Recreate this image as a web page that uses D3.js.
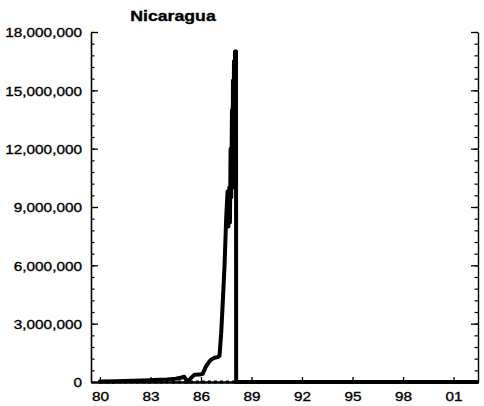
<!DOCTYPE html>
<html>
<head>
<meta charset="utf-8">
<script src="https://cdn.jsdelivr.net/npm/d3@7"></script>
<style>
  html, body { margin: 0; padding: 0; background: #fff; }
  svg { display: block; }
  text { font-family: Arial, "Liberation Sans", Helvetica, sans-serif; fill: #000; }
</style>
</head>
<body>
<svg id="chart" width="484" height="406"></svg>
<script>
// ---- data ----
const title = "Nicaragua";
const years = [80.0, 81.0, 82.0, 83.0, 83.5, 84.0, 84.5, 84.8, 85.0, 85.1, 85.2, 85.4, 85.6, 85.9,
  86.1, 86.3, 86.45, 86.6, 86.8, 87.0, 87.1, 87.2, 87.3, 87.4, 87.5, 87.58, 87.63, 87.68, 87.72, 87.76,
  87.8, 87.84, 87.87, 87.9, 87.93, 87.96, 87.99, 88.02, 88.05, 88.08, 88.09, 89, 90, 91, 92, 93, 94, 95, 96, 97, 98, 99, 100, 101, 102, 102.4];
const parallelRate = [30000, 40000, 60000, 90000, 110000, 130000, 170000, 220000, 270000, 150000, 20000, 200000, 370000, 380000,
  420000, 800000, 1000000, 1150000, 1250000, 1280000, 1350000, 2500000, 4200000, 6000000, 8500000, 9800000, 8000000, 10000000, 8200000, 12000000,
  9500000, 14000000, 10000000, 15500000, 11000000, 16500000, 12500000, 17000000, 14000000, 17000000, 0, 0, 0, 0, 0, 0, 0, 0, 0, 0, 0, 0, 0, 0, 0, 0];
const officialYears = [80, 81, 82, 83, 84, 85, 86, 87, 88.08];
const officialRate = [0, 0, 0, 0, 0, 0, 0, 0, 0];
const xTickValues = [80, 83, 86, 89, 92, 95, 98, 101];
const xTickLabels = ["80", "83", "86", "89", "92", "95", "98", "01"];
const yTickValues = [0, 3000000, 6000000, 9000000, 12000000, 15000000, 18000000];
const yTickLabels = ["0", "3,000,000", "6,000,000", "9,000,000", "12,000,000", "15,000,000", "18,000,000"];
const yMinorStep = 600000;

// ---- layout ----
const svg = d3.select("#chart");
const mLeft = 91, mRight = 478, mTop = 32, mBottom = 382;
const x = d3.scaleLinear().domain([79.47, 102.45]).range([mLeft, mRight]);
const y = d3.scaleLinear().domain([0, 18000000]).range([mBottom, mTop]);
const stretch = 1.18;

function stretchText(sel) {
  sel.each(function () {
    const w = this.getComputedTextLength();
    d3.select(this).attr("textLength", w * stretch).attr("lengthAdjust", "spacingAndGlyphs")
      .attr("stroke", "#000").attr("stroke-width", 0.35);
  });
}

// minor ticks
const yMinor = d3.range(0, 18000000 + 1, yMinorStep);
svg.append("g").attr("transform", `translate(${mLeft},0)`)
  .call(d3.axisRight(y).tickValues(yMinor).tickSize(3.5).tickFormat(""))
  .call(g => g.select(".domain").remove())
  .call(g => g.selectAll("line").attr("stroke", "#000").attr("stroke-width", 1.2));
svg.append("g").attr("transform", `translate(${mRight},0)`)
  .call(d3.axisLeft(y).tickValues(yMinor).tickSize(3.5).tickFormat(""))
  .call(g => g.select(".domain").remove())
  .call(g => g.selectAll("line").attr("stroke", "#000").attr("stroke-width", 1.2));

// left axis (major)
const yAxisL = svg.append("g").attr("transform", `translate(${mLeft},0)`)
  .call(d3.axisLeft(y).tickValues(yTickValues).tickSizeInner(-7).tickSizeOuter(0).tickPadding(9)
    .tickFormat((d, i) => yTickLabels[i]));
yAxisL.selectAll("line").attr("stroke", "#000").attr("stroke-width", 1.3);
yAxisL.select(".domain").attr("stroke", "#000").attr("stroke-width", 1.6);
yAxisL.selectAll("text").attr("font-size", 13).attr("dy", "0.36em").call(stretchText);

// right axis (major)
const yAxisR = svg.append("g").attr("transform", `translate(${mRight},0)`)
  .call(d3.axisRight(y).tickValues(yTickValues).tickSizeInner(-7).tickSizeOuter(0).tickFormat(""));
yAxisR.selectAll("line").attr("stroke", "#000").attr("stroke-width", 1.3);
yAxisR.select(".domain").attr("stroke", "#000").attr("stroke-width", 1.4);

// bottom axis
const xAxis = svg.append("g").attr("transform", `translate(0,${mBottom})`)
  .call(d3.axisBottom(x).tickValues(xTickValues).tickSizeInner(-5).tickSizeOuter(0).tickPadding(10)
    .tickFormat((d, i) => xTickLabels[i]));
xAxis.selectAll("line").attr("stroke", "#000").attr("stroke-width", 1.3);
xAxis.select(".domain").attr("stroke", "#000").attr("stroke-width", 2.5);
xAxis.selectAll("text").attr("font-size", 13).call(stretchText);

// official rate (dotted)
const lineOff = d3.line().x((d, i) => x(officialYears[i])).y(d => y(d));
svg.append("path").datum(officialRate)
  .attr("d", lineOff).attr("fill", "none").attr("stroke", "#000")
  .attr("stroke-width", 3).attr("stroke-dasharray", "3,3");

// parallel rate (solid)
const lineMain = d3.line().x((d, i) => x(years[i])).y(d => y(d));
svg.append("path").datum(parallelRate)
  .attr("d", lineMain).attr("fill", "none").attr("stroke", "#000")
  .attr("stroke-width", 4).attr("stroke-linejoin", "round").attr("stroke-linecap", "round");

// title
svg.append("text").attr("x", 173).attr("y", 21).attr("text-anchor", "middle")
  .attr("font-size", 15).attr("font-weight", "bold").text(title).call(stretchText);
</script>
</body>
</html>
